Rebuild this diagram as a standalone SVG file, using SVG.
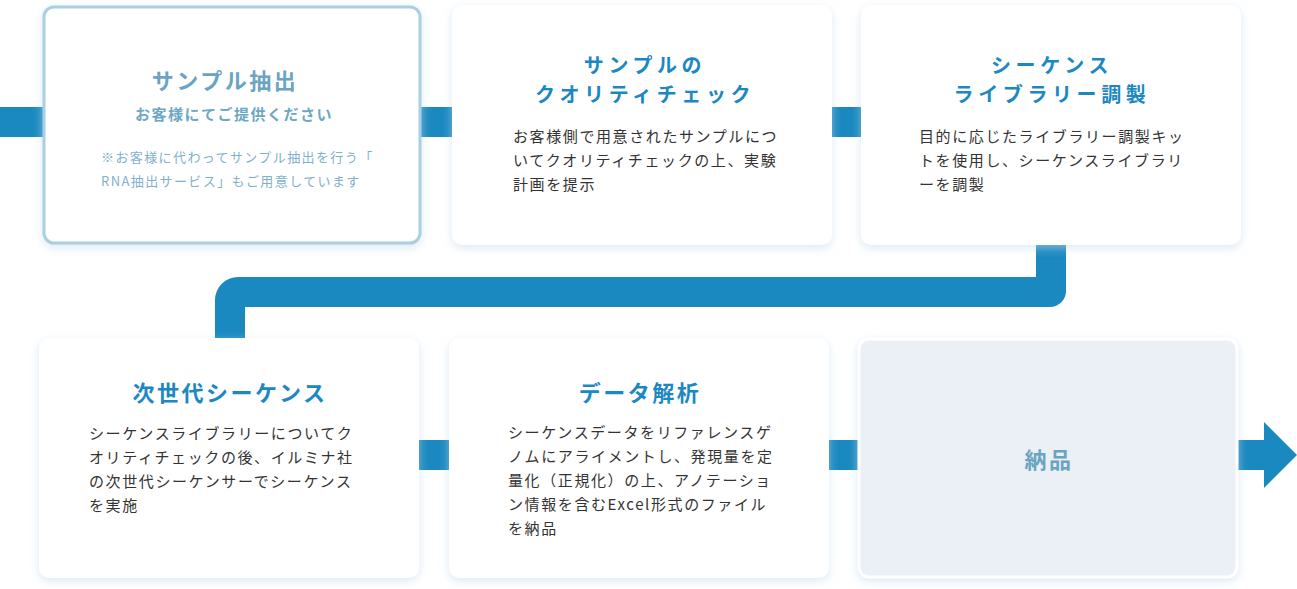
<svg xmlns="http://www.w3.org/2000/svg" width="1297" height="589" viewBox="0 0 1297 589">
<defs>
<filter id="sh" x="-10%" y="-10%" width="120%" height="125%">
<feDropShadow dx="0" dy="3" stdDeviation="5" flood-color="#c4dcec" flood-opacity="0.6"/>
</filter>
</defs>
<style>
.card{fill:#fff;filter:url(#sh)}
.t{font-family:"Noto Sans CJK JP","Noto Sans",sans-serif;font-weight:700;font-size:22px;letter-spacing:2.5px;fill:#1c88c2;text-anchor:middle}
.t2{font-size:20px;letter-spacing:4.6px}
.b{font-family:"Noto Sans CJK JP","Noto Sans",sans-serif;font-size:15px;letter-spacing:1.6px;fill:#333}
.bar{fill:#1a89c0}
</style>
<rect width="1297" height="589" fill="#fff"/>
<g id="connectors">
<rect class="bar" x="0" y="107" width="45" height="30"/>
<rect class="bar" x="419" y="107" width="35" height="30"/>
<rect class="bar" x="830" y="107" width="33" height="30"/>
<path class="bar" d="M1036,240 H1066 V291 A16,16 0 0 1 1050,307 H245 V340 H215 V300 A23,23 0 0 1 238,277 H1036 Z"/>
<rect class="bar" x="417" y="440" width="34" height="30"/>
<rect class="bar" x="827" y="440" width="33" height="30"/>
<rect class="bar" x="1236" y="440" width="30" height="30"/>
<polygon class="bar" points="1264,422 1297,455 1264,488"/>
</g>
<g id="n1">
<rect x="44" y="7" width="376" height="236" rx="10" fill="#fff" stroke="#a8cfe3" stroke-width="3" filter="url(#sh)"/>
<text class="t" x="225" y="89" style="fill:#6ba4c2">サンプル抽出</text>
<text x="234" y="120" font-family="'Noto Sans CJK JP',sans-serif" font-weight="700" font-size="15" letter-spacing="1.5" fill="#6ea7c4" text-anchor="middle">お客様にてご提供ください</text>
<text x="101" y="162" font-family="'Noto Sans CJK JP',sans-serif" font-size="13" letter-spacing="1.4" fill="#7fb1cc">※お客様に代わってサンプル抽出を行う「</text>
<text x="101" y="186" font-family="'Noto Sans CJK JP',sans-serif" font-size="13" letter-spacing="1.4" fill="#7fb1cc">RNA抽出サービス」もご用意しています</text>
</g>
<g id="n2">
<rect class="card" x="452" y="5" width="380" height="240" rx="10"/>
<text class="t t2" x="645" y="73">サンプルの</text>
<text class="t t2" x="645" y="102">クオリティチェック</text>
<text class="b" x="513" y="142">お客様側で用意されたサンプルにつ</text>
<text class="b" x="513" y="166">いてクオリティチェックの上、実験</text>
<text class="b" x="513" y="190">計画を提示</text>
</g>
<g id="n3">
<rect class="card" x="861" y="5" width="380" height="240" rx="10"/>
<text class="t t2" x="1052" y="73">シーケンス</text>
<text class="t t2" x="1052" y="102">ライブラリー調製</text>
<text class="b" x="919" y="142">目的に応じたライブラリー調製キッ</text>
<text class="b" x="919" y="166">トを使用し、シーケンスライブラリ</text>
<text class="b" x="919" y="190">ーを調製</text>
</g>
<g id="n4">
<rect class="card" x="39" y="338" width="380" height="240" rx="10"/>
<text class="t" x="230" y="401">次世代シーケンス</text>
<text class="b" x="89" y="439">シーケンスライブラリーについてク</text>
<text class="b" x="89" y="463">オリティチェックの後、イルミナ社</text>
<text class="b" x="89" y="487">の次世代シーケンサーでシーケンス</text>
<text class="b" x="89" y="511">を実施</text>
</g>
<g id="n5">
<rect class="card" x="449" y="338" width="380" height="240" rx="10"/>
<text class="t" x="640" y="401">データ解析</text>
<text class="b" x="508" y="438">シーケンスデータをリファレンスゲ</text>
<text class="b" x="508" y="462">ノムにアライメントし、発現量を定</text>
<text class="b" x="508" y="486">量化（正規化）の上、アノテーショ</text>
<text class="b" x="508" y="510">ン情報を含むExcel形式のファイル</text>
<text class="b" x="508" y="534">を納品</text>
</g>
<g id="n6">
<rect x="859" y="339" width="378" height="238" rx="10" fill="#eaf0f5" stroke="#fff" stroke-width="3" filter="url(#sh)"/>
<text class="t" x="1049" y="468" style="fill:#6ba4c2">納品</text>
</g>
</svg>
